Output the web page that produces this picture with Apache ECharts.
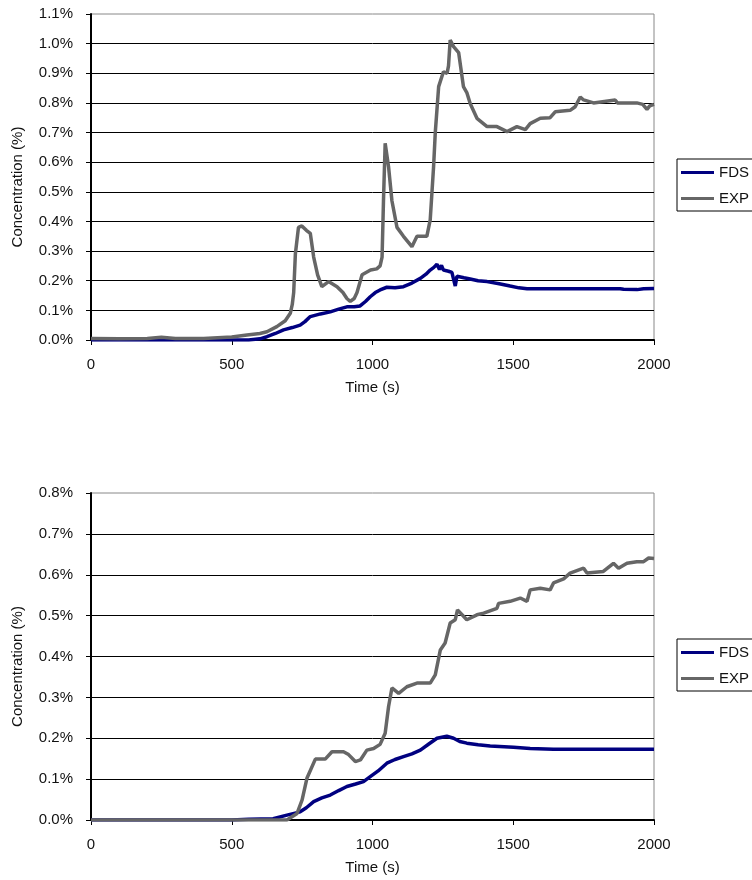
<!DOCTYPE html>
<html>
<head>
<meta charset="utf-8">
<script src="https://cdn.jsdelivr.net/npm/echarts@6/dist/echarts.min.js"></script>
<style>
  html, body { margin: 0; padding: 0; background: #fff; }
  #chart { width: 752px; height: 880px; }
</style>
</head>
<body>
<div id="chart"></div>
<script>
// top chart, [time s, concentration %]
var fds1 = [[0,0],[300,0],[560,0],[600,0.004],[625,0.011],[655,0.022],[684,0.034],[715,0.042],[743,0.05],[760,0.062],[779,0.079],[815,0.088],[850,0.095],[880,0.104],[909,0.112],[935,0.112],[956,0.115],[975,0.13],[992,0.146],[1010,0.16],[1027,0.169],[1051,0.178],[1080,0.176],[1110,0.18],[1140,0.192],[1170,0.208],[1190,0.222],[1205,0.236],[1218,0.245],[1229,0.256],[1238,0.238],[1245,0.252],[1252,0.236],[1270,0.232],[1282,0.228],[1294,0.182],[1300,0.215],[1306,0.216],[1325,0.21],[1347,0.206],[1375,0.2],[1407,0.197],[1450,0.19],[1489,0.182],[1520,0.176],[1549,0.173],[1700,0.173],[1880,0.173],[1892,0.171],[1940,0.17],[1963,0.173],[2000,0.174]];
var exp1 = [[0,0.005],[100,0.004],[200,0.005],[250,0.009],[300,0.005],[400,0.005],[450,0.008],[500,0.01],[554,0.017],[600,0.022],[625,0.028],[660,0.045],[690,0.065],[708,0.09],[715,0.12],[720,0.16],[726,0.29],[737,0.38],[749,0.385],[765,0.37],[779,0.36],[791,0.28],[805,0.22],[820,0.18],[844,0.197],[874,0.18],[895,0.16],[909,0.14],[921,0.13],[935,0.14],[945,0.16],[963,0.22],[993,0.236],[1015,0.24],[1027,0.25],[1034,0.28],[1039,0.47],[1045,0.664],[1051,0.67],[1057,0.585],[1069,0.47],[1087,0.38],[1110,0.35],[1140,0.315],[1158,0.35],[1193,0.35],[1205,0.405],[1217,0.585],[1223,0.7],[1235,0.855],[1252,0.905],[1265,0.9],[1270,0.925],[1276,1.012],[1288,0.99],[1306,0.97],[1323,0.855],[1335,0.835],[1347,0.798],[1371,0.748],[1407,0.72],[1442,0.72],[1478,0.703],[1513,0.72],[1543,0.71],[1560,0.73],[1596,0.748],[1631,0.75],[1649,0.77],[1702,0.775],[1720,0.787],[1738,0.82],[1750,0.81],[1785,0.8],[1862,0.81],[1870,0.8],[1892,0.8],[1939,0.8],[1960,0.795],[1975,0.778],[1985,0.79],[2000,0.795]];

// bottom chart
var fds2 = [[0,0],[500,0],[560,0.002],[647,0.003],[696,0.012],[743,0.02],[765,0.03],[791,0.045],[820,0.054],[850,0.061],[880,0.072],[909,0.082],[940,0.088],[968,0.094],[992,0.106],[1020,0.12],[1051,0.139],[1080,0.148],[1110,0.155],[1140,0.162],[1170,0.171],[1200,0.186],[1229,0.2],[1264,0.205],[1288,0.2],[1310,0.192],[1335,0.188],[1375,0.184],[1418,0.181],[1501,0.178],[1560,0.175],[1643,0.173],[2000,0.173]];
var exp2 = [[0,0],[300,0],[500,0],[696,0],[732,0.016],[750,0.049],[767,0.102],[797,0.149],[832,0.149],[856,0.167],[897,0.167],[915,0.16],[939,0.143],[957,0.147],[980,0.171],[1004,0.175],[1027,0.185],[1045,0.212],[1057,0.277],[1069,0.323],[1093,0.31],[1122,0.326],[1158,0.335],[1205,0.335],[1223,0.355],[1241,0.416],[1258,0.433],[1276,0.482],[1294,0.49],[1302,0.514],[1335,0.49],[1371,0.502],[1395,0.506],[1442,0.518],[1448,0.53],[1489,0.535],[1525,0.543],[1549,0.535],[1560,0.563],[1596,0.567],[1631,0.563],[1643,0.58],[1679,0.59],[1702,0.604],[1750,0.616],[1762,0.604],[1820,0.608],[1856,0.628],[1874,0.616],[1904,0.628],[1939,0.632],[1963,0.632],[1981,0.641],[2000,0.64]];

var xTicks = [0, 500, 1000, 1500, 2000];
var seriesNames = ['FDS', 'EXP'];
var yMax1 = 1.1, yMax2 = 0.8;

var fontFam = '"Liberation Sans", Arial, sans-serif';
var chart = echarts.init(document.getElementById('chart'), null, {renderer: 'canvas'});

function xAxisOf(idx) {
    return {
        gridIndex: idx, type: 'value', min: xTicks[0], max: xTicks[xTicks.length - 1], interval: 500,
        name: 'Time (s)', nameLocation: 'middle', nameGap: 40,
        nameTextStyle: {fontFamily: fontFam, fontSize: 15, color: '#111'},
        axisLine: {lineStyle: {color: '#000', width: 2}},
        axisTick: {length: 5, lineStyle: {color: '#000'}},
        axisLabel: {margin: 17, fontFamily: fontFam, fontSize: 15, color: '#111',
            formatter: function (v) { return String(v); }},
        splitLine: {show: false}
    };
}
function yAxisOf(idx, max) {
    return {
        gridIndex: idx, type: 'value', min: 0, max: max, interval: 0.1,
        name: 'Concentration (%)', nameLocation: 'middle', nameGap: 66,
        nameTextStyle: {fontFamily: fontFam, fontSize: 15, color: '#111', padding: [0, 20, 0, 0]},
        axisLine: {lineStyle: {color: '#000', width: 2}},
        axisTick: {length: 5, lineStyle: {color: '#000'}},
        axisLabel: {margin: 18, fontFamily: fontFam, fontSize: 15, color: '#111',
            formatter: function (v) { return v.toFixed(1) + '%'; }},
        splitLine: {show: true, showMaxLine: false, lineStyle: {color: '#000', width: 1}}
    };
}
function legendOf(top) {
    return {
        data: seriesNames, orient: 'vertical', left: 677, top: top,
        icon: 'rect', itemWidth: 33, itemHeight: 3, itemGap: 11, itemTextGap: 3,
        padding: [6, 45, 5, 4], borderColor: '#000', borderWidth: 1,
        textStyle: {fontFamily: fontFam, fontSize: 15, color: '#111'}
    };
}
function lineOf(name, data, idx, color, w) {
    return {
        name: name, type: 'line', data: data, xAxisIndex: idx, yAxisIndex: idx,
        showSymbol: false, symbol: 'none', color: color,
        lineStyle: {color: color, width: w}, animation: false
    };
}

var option = {
    backgroundColor: '#fff',
    grid: [
        {left: 91, top: 14, width: 563, height: 326, show: true, borderColor: '#888', borderWidth: 1},
        {left: 91, top: 493, width: 563, height: 327, show: true, borderColor: '#888', borderWidth: 1}
    ],
    legend: [legendOf(159), legendOf(639)],
    xAxis: [xAxisOf(0), xAxisOf(1)],
    yAxis: [yAxisOf(0, yMax1), yAxisOf(1, yMax2)],
    series: [
        lineOf('FDS', fds1, 0, '#000080', 3.5),
        lineOf('EXP', exp1, 0, '#666666', 3.5),
        lineOf('FDS', fds2, 1, '#000080', 3.5),
        lineOf('EXP', exp2, 1, '#666666', 3.5)
    ]
};
chart.setOption(option);
</script>
</body>
</html>
